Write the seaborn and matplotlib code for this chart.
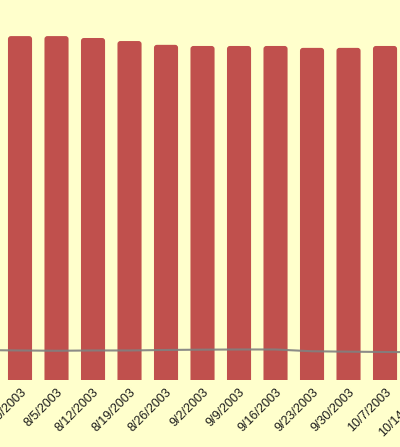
import matplotlib
matplotlib.use("Agg")
import matplotlib.pyplot as plt
from matplotlib.patches import FancyBboxPatch
import seaborn as sns
import pandas as pd

# weekly data, first and last week sit just outside the visible window
weeks = ["7/22/2003", "7/29/2003", "8/5/2003", "8/12/2003", "8/19/2003", "8/26/2003",
         "9/2/2003", "9/9/2003", "9/16/2003", "9/23/2003", "9/30/2003", "10/7/2003",
         "10/14/2003"]
bar_values = [905, 905, 905, 900, 892, 882, 879, 879, 879, 874, 874, 879, 879]
line_values = [78.6, 77.6, 76.8, 77.6, 77.6, 78.9, 79.7, 80.2, 80.2, 75.5, 74.4, 73.6, 73.1]

bg = "#FFFFCC"
bar_colour = "#C0504D"

sns.set_style("white")
plt.rcParams["font.family"] = ["Liberation Sans", "DejaVu Sans"]

df = pd.DataFrame({"week": weeks, "value": bar_values, "line": line_values,
                   "pos": range(len(weeks))})

fig = plt.figure(figsize=(4.0, 4.47), dpi=100)
fig.patch.set_facecolor(bg)
# axes run past both figure edges so the chart looks cropped
ax = fig.add_axes([-0.125, 0.15, 1.25, 0.85])
ax.set_facecolor(bg)

sns.barplot(data=df, x="pos", y="value", color=bar_colour, width=0.66,
            saturation=1, ax=ax)
sns.lineplot(data=df, x="pos", y="line", color="#808080", linewidth=1.5,
             alpha=0.9, ax=ax)

ax.set_xticks(df["pos"])
ax.set_xticklabels(weeks, rotation=45, ha="right", va="top",
                   rotation_mode="anchor", fontsize=9, color="#1a1a1a")
ax.tick_params(axis="x", length=0, pad=4.5)
ax.set_yticks([])
ax.set_xlabel("")
ax.set_ylabel("")

x_lo, x_hi = -0.918, 12.78
y_hi = 1000
ax.set_xlim(x_lo, x_hi)
ax.set_ylim(0, y_hi)

# swap plain rectangles for ones with rounded tops
aspect = (y_hi / (0.85 * 447)) / ((x_hi - x_lo) / 500)
for p in list(ax.patches):
    x, w, h = p.get_x(), p.get_width(), p.get_height()
    p.remove()
    ax.add_patch(FancyBboxPatch((x, -30), w, h + 30,
                                boxstyle="round,pad=0,rounding_size=0.08",
                                mutation_aspect=aspect, facecolor=bar_colour,
                                edgecolor="none", zorder=1))

for spine in ax.spines.values():
    spine.set_visible(False)

fig.savefig("out.png", dpi=100, facecolor=bg)
